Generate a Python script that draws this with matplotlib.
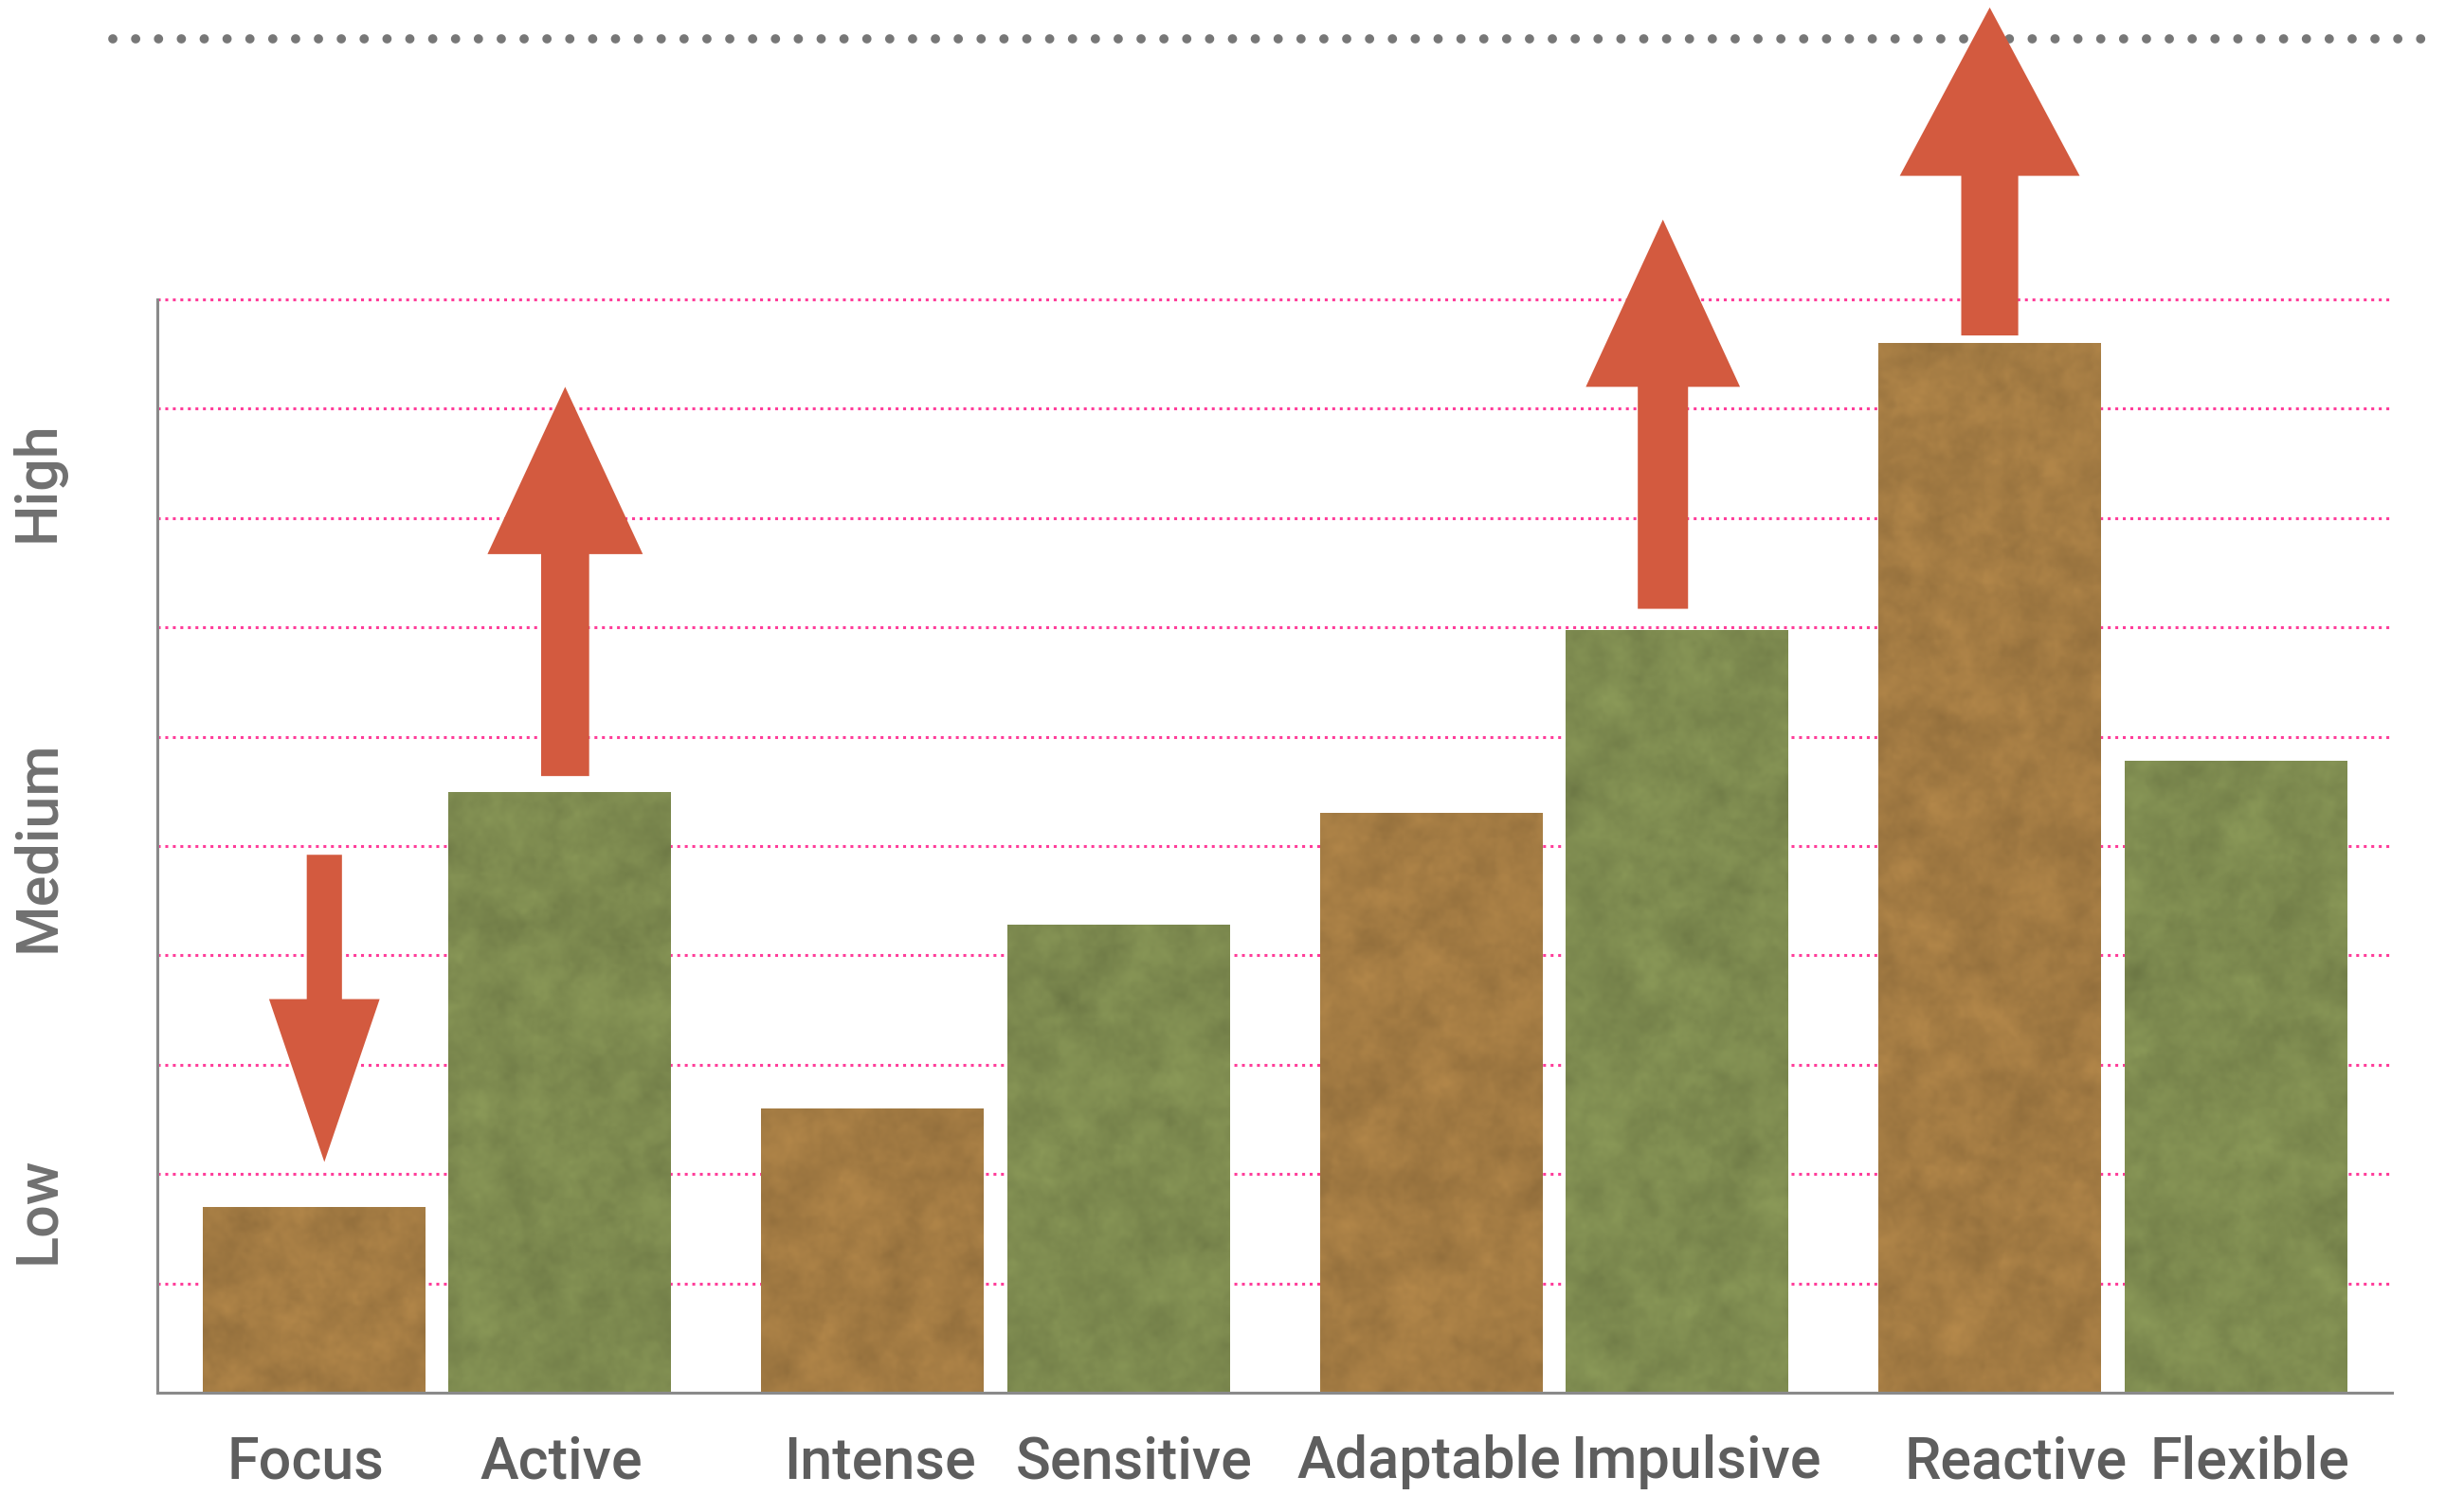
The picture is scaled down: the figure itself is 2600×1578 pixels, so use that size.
import numpy as np
import matplotlib
matplotlib.use("Agg")
import matplotlib.pyplot as plt
from matplotlib.patches import Polygon

# ---- data -------------------------------------------------------------
categories = ["Focus", "Active", "Intense", "Sensitive",
              "Adaptable", "Impulsive", "Reactive", "Flexible"]
scores = [1.70, 5.49, 2.60, 4.28, 5.30, 6.98, 9.60, 5.78]
level_labels = ["Low", "Medium", "High"]
level_positions = [10 / 6, 5.0, 50 / 6]

# shifts shown as arrows: category, tail value, tip value
arrow_categories = ["Focus", "Active", "Impulsive", "Reactive"]
arrow_tail = [4.92, 5.64, 7.17, 9.67]
arrow_tip = [2.11, 9.20, 10.73, 12.67]

ceiling_value = 12.38

# ---- style ------------------------------------------------------------
BROWN = np.array([163, 123, 67]) / 255
GREEN = np.array([126, 139, 80]) / 255
ARROW = "#D35A3F"
PINK = "#FF3D9A"
SPINE = "#8a8a8a"

# arrow geometry (x widths in group units, head length in value units)
arrow_shaft_w = [0.063, 0.086, 0.090, 0.102]
arrow_head_w = [0.198, 0.278, 0.276, 0.322]
arrow_head_len = [1.49, 1.53, 1.53, 1.54]
arrow_dx = [0.019, 0.010, -0.025, 0.0]

# horizontal nudges of the category labels (group units)
label_nudge = [-0.014, 0.003, 0.014, 0.029, -0.003, 0.034, 0.046, 0.025]

plt.rcParams["font.family"] = ["Roboto", "DejaVu Sans"]

W_PX, H_PX = 2600, 1578
fig = plt.figure(figsize=(W_PX / 100, H_PX / 100), dpi=100)
left, right, bottom = 166 / W_PX, 2524 / W_PX, (H_PX - 1470) / H_PX
ax = fig.add_axes([left, bottom, right - left, 1 - bottom])

y_top = 1470 / 115.4
x_lo, x_hi = -0.5, 3.5

# bar positions: pairs per group
group = np.repeat(np.arange(len(categories) // 2), 2)
side = np.tile([-0.22, 0.22], len(categories) // 2)
xpos = group + side
bar_w = 0.398
colors = [BROWN if i % 2 == 0 else GREEN for i in range(len(categories))]

# dotted pink guide lines
ax.hlines(np.arange(1, 11), 0, 1, transform=ax.get_yaxis_transform(),
          colors=PINK, linewidth=2.2, linestyles=(0, (1, 1.6)), zorder=1)

# dotted grey ceiling line
ax.plot([-0.02, 1.023], [ceiling_value, ceiling_value],
        transform=ax.get_yaxis_transform(), color="#777777", lw=7.0,
        linestyle=(0, (0.01, 2.47)), dash_capstyle="round",
        clip_on=False, zorder=2)

bars = ax.bar(xpos, scores, width=bar_w, color=colors, zorder=3,
              linewidth=0)


def mottled(h, w, rng):
    """Smooth cloudy noise field with zero mean and unit spread."""
    out = np.zeros((h, w))
    ky = np.fft.fftfreq(h)[:, None]
    kx = np.fft.fftfreq(w)[None, :]
    k2 = kx ** 2 + ky ** 2
    for sigma, amp in [(6.0, 1.0), (2.5, 0.6), (1.0, 0.35)]:
        field = rng.standard_normal((h, w))
        filt = np.exp(-2 * (np.pi ** 2) * (sigma ** 2) * k2)
        sm = np.real(np.fft.ifft2(np.fft.fft2(field) * filt))
        out += amp * sm / sm.std()
    return out / out.std()


rng = np.random.default_rng(11)
px_per_y = 115.4
px_per_x = 590.0
for b, base in zip(bars, colors):
    x0, w = b.get_x(), b.get_width()
    h = b.get_height()
    hp, wp = max(int(h * px_per_y / 2), 4), int(w * px_per_x / 2)
    n = mottled(hp, wp, rng)
    img = base[None, None, :] * (1 + 0.03 * n[:, :, None])
    img = np.clip(img, 0, 1)
    im = ax.imshow(img, extent=(x0, x0 + w, 0, h), origin="lower",
                   aspect="auto", interpolation="bilinear", zorder=3.5)
    im.set_clip_path(b)

# arrows
for cat, t0, t1, sw, hw, hl, dx in zip(arrow_categories, arrow_tail, arrow_tip,
                                       arrow_shaft_w, arrow_head_w,
                                       arrow_head_len, arrow_dx):
    xc = xpos[categories.index(cat)] + dx
    d = np.sign(t1 - t0)
    yh = t1 - d * hl
    pts = [(xc - sw / 2, t0), (xc + sw / 2, t0), (xc + sw / 2, yh),
           (xc + hw / 2, yh), (xc, t1), (xc - hw / 2, yh), (xc - sw / 2, yh)]
    ax.add_patch(Polygon(pts, closed=True, facecolor=ARROW, edgecolor="none",
                         zorder=5, clip_on=False))

ax.set_xlim(x_lo, x_hi)
ax.set_ylim(0, y_top)

for s in ["top", "right"]:
    ax.spines[s].set_visible(False)
for s in ["left", "bottom"]:
    ax.spines[s].set_color(SPINE)
    ax.spines[s].set_linewidth(2.2)
    ax.spines[s].set_zorder(6)
ax.spines["left"].set_bounds(0, 10)

ax.set_xticks(xpos + np.array(label_nudge))
ax.set_xticklabels(categories, fontsize=44, color="#5e5e5e", fontweight="medium")
ax.set_yticks(level_positions)
ax.set_yticklabels(level_labels, fontsize=44, color="#707070", rotation=90,
                   va="center", fontweight="medium")
ax.tick_params(axis="x", length=0, pad=32)
ax.tick_params(axis="y", length=0, pad=70)
ax.set_facecolor("none")

fig.savefig("out.png", dpi=100, facecolor="white")
